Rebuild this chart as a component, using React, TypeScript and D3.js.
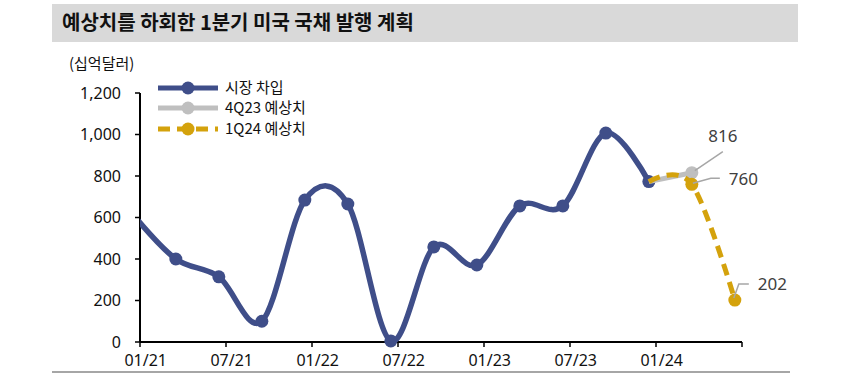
import React from "react";
import * as d3 from "d3";

const TITLE = "예상치를 하회한 1분기 미국 국채 발행 계획";
const Y_UNIT = "(십억달러)";

const ISSUANCE_PERIODS = ["2020-12", "2021-03", "2021-06", "2021-09", "2021-12", "2022-03", "2022-06", "2022-09", "2022-12", "2023-03", "2023-06", "2023-09", "2023-12"];
const ISSUANCE = [615, 400, 314, 100, 684, 665, 5, 458, 371, 656, 656, 1007, 773];

const EST_4Q23_PERIODS = ["2023-12", "2024-03"];
const EST_4Q23 = [773, 816];

const EST_1Q24_PERIODS = ["2023-12", "2024-03", "2024-06"];
const EST_1Q24 = [773, 760, 202];

const X_TICKS = ["2021-01", "2021-07", "2022-01", "2022-07", "2023-01", "2023-07", "2024-01", "2024-07"];
const X_TICK_LABELS = ["01/21", "07/21", "01/22", "07/22", "01/23", "07/23", "01/24", ""];
const Y_TICKS = [0, 200, 400, 600, 800, 1000, 1200];

const SERIES_NAMES = ["시장 차입", "4Q23 예상치", "1Q24 예상치"];

const BLUE = "#3F4E89";
const GRAY = "#BFBFBF";
const GOLD = "#D4A20C";
const LEADER = "#A6A6A6";
const NUM_FONT = "'Noto Sans', 'Noto Sans CJK KR', sans-serif";
const KR_FONT = "'Noto Sans CJK KR', 'Noto Sans', sans-serif";

function monthIndex(p: string) {
  const [y, m] = p.split("-").map(Number);
  return (y - 2021) * 12 + (m - 1);
}

export default function App() {
  const W = 866, H = 378;
  const x = d3.scaleLinear().domain([0, 42]).range([140, 742]);
  const y = d3.scaleLinear().domain([0, 1200]).range([342, 93]);
  const px = (p: string) => x(monthIndex(p) + 0.5);

  const line = d3
    .line<[number, number]>()
    .x((d) => d[0])
    .y((d) => d[1])
    .curve(d3.curveCardinal.tension(0));

  const bluePts: [number, number][] = ISSUANCE_PERIODS.map((p, i) => [px(p), y(ISSUANCE[i])]);
  const grayPts: [number, number][] = EST_4Q23_PERIODS.map((p, i) => [px(p), y(EST_4Q23[i])]);
  const goldPts: [number, number][] = EST_1Q24_PERIODS.map((p, i) => [px(p), y(EST_1Q24[i])]);

  const r = 6.5;
  const p816 = grayPts[1];
  const p760 = goldPts[1];
  const p202 = goldPts[2];

  return (
    <div style={{ position: "fixed", left: 0, top: 0 }}>
      <svg width={W} height={H} style={{ display: "block", background: "#fff" }}>
        <defs>
          <clipPath id="plotClip">
            <rect x={140} y={60} width={640} height={300} />
          </clipPath>
        </defs>
        {/* title band */}
        <rect x={52} y={4} width={746} height={38} fill="#D9D9D9" />
        <text x={62} y={30} fontFamily={KR_FONT} fontWeight={700} fontSize={20} fill="#111">
          {TITLE}
        </text>
        <line x1={52} x2={790} y1={372} y2={372} stroke="#A6A6A6" strokeWidth={2} />

        {/* unit */}
        <text x={69} y={69} fontFamily={KR_FONT} fontSize={15} fill="#111">
          {Y_UNIT}
        </text>

        {/* y axis */}
        <line x1={140} x2={140} y1={y(1200)} y2={y(0)} stroke="#000" strokeWidth={2} />
        {Y_TICKS.map((t) => (
          <g key={t}>
            <line x1={135} x2={140} y1={y(t)} y2={y(t)} stroke="#000" strokeWidth={1.5} />
            <text x={121} y={y(t)} dy="0.35em" textAnchor="end" fontFamily={NUM_FONT} fontSize={16} fill="#111">
              {d3.format(",")(t)}
            </text>
          </g>
        ))}

        {/* x axis */}
        <line x1={140} x2={742} y1={y(0)} y2={y(0)} stroke="#000" strokeWidth={2} />
        {X_TICKS.map((t, i) => (
          <g key={t}>
            <line x1={x(monthIndex(t))} x2={x(monthIndex(t))} y1={y(0)} y2={y(0) + 5} stroke="#000" strokeWidth={1.5} />
            <text x={x(monthIndex(t) + 0.4)} y={366} textAnchor="middle" fontFamily={NUM_FONT} fontSize={16} fill="#111">
              {X_TICK_LABELS[i]}
            </text>
          </g>
        ))}

        {/* series */}
        <g clipPath="url(#plotClip)">
          <path d={line(bluePts) || ""} fill="none" stroke={BLUE} strokeWidth={5.5} />
          {bluePts.slice(1).map((p, i) => (
            <circle key={i} cx={p[0]} cy={p[1]} r={r} fill={BLUE} />
          ))}
          <path d={line(grayPts) || ""} fill="none" stroke={GRAY} strokeWidth={5} />
          <circle cx={p816[0]} cy={p816[1]} r={r} fill={GRAY} />
          <path d={line(goldPts) || ""} fill="none" stroke={GOLD} strokeWidth={5} strokeDasharray="12 7" />
          {goldPts.slice(1).map((p, i) => (
            <circle key={i} cx={p[0]} cy={p[1]} r={r} fill={GOLD} />
          ))}
        </g>

        {/* data labels */}
        <polyline points={`${p816[0] + 3},${p816[1] - 2} ${p816[0] + 31},${p816[1] - 21}`} fill="none" stroke={LEADER} strokeWidth={1.5} />
        <text x={p816[0] + 31} y={p816[1] - 37} dy="0.35em" textAnchor="middle" fontFamily={NUM_FONT} fontSize={17} fill="#404040">
          816
        </text>
        <polyline points={`${p760[0] + 1},${p760[1] - 1} ${p760[0] + 19},${p760[1] - 6} ${p760[0] + 28},${p760[1] - 6}`} fill="none" stroke={LEADER} strokeWidth={1.5} />
        <text x={p760[0] + 37} y={p760[1] - 5} dy="0.35em" fontFamily={NUM_FONT} fontSize={17} fill="#404040">
          760
        </text>
        <polyline points={`${p202[0] - 1},${p202[1] - 2} ${p202[0] + 4},${p202[1] - 16} ${p202[0] + 14},${p202[1] - 16}`} fill="none" stroke={LEADER} strokeWidth={1.5} />
        <text x={p202[0] + 23} y={p202[1] - 16} dy="0.35em" fontFamily={NUM_FONT} fontSize={17} fill="#404040">
          202
        </text>

        {/* legend */}
        {SERIES_NAMES.map((name, i) => {
          const ly = [88, 108, 129][i];
          const color = [BLUE, GRAY, GOLD][i];
          return (
            <g key={name}>
              <line x1={158} x2={218} y1={ly} y2={ly} stroke={color} strokeWidth={5} strokeDasharray={i === 2 ? "12 7" : undefined} />
              <circle cx={188} cy={ly} r={r} fill={color} />
              <text x={225} y={ly} dy="0.35em" fontFamily={KR_FONT} fontSize={15} fill="#111">
                {name}
              </text>
            </g>
          );
        })}
      </svg>
    </div>
  );
}
